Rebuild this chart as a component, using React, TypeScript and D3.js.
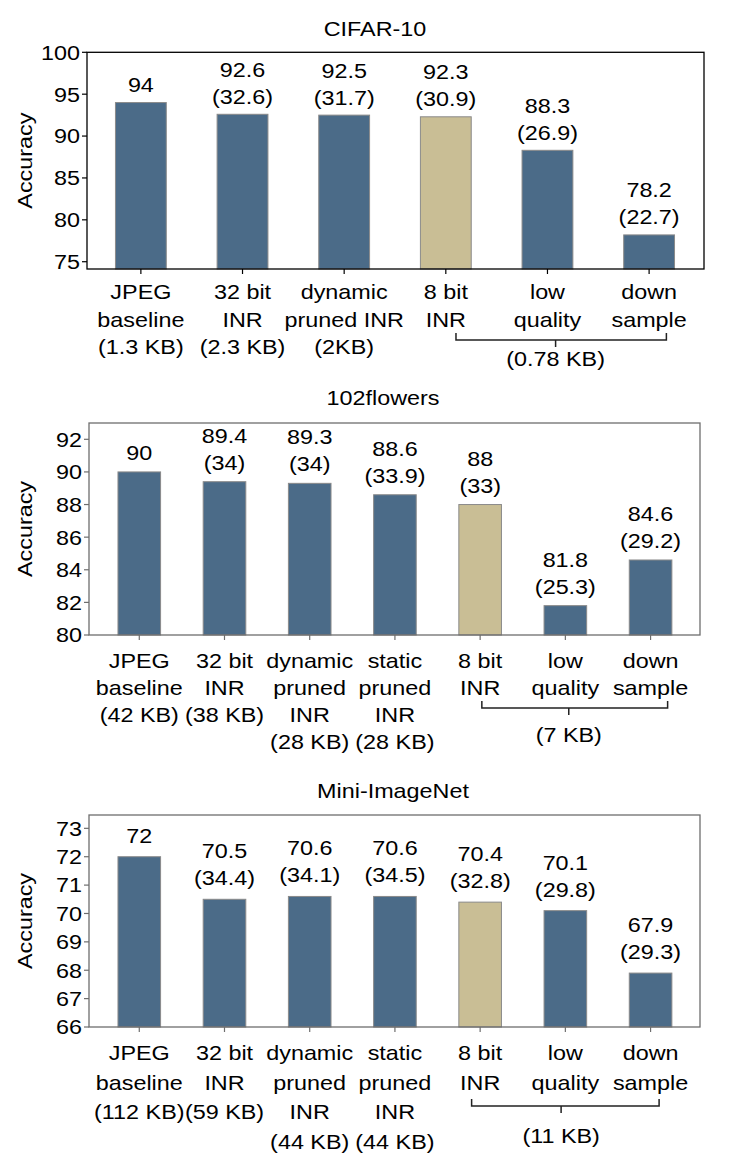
import React from 'react';
import * as d3 from 'd3';

// chart values
const cifarLabels = [
  ['JPEG', 'baseline', '(1.3 KB)'],
  ['32 bit', 'INR', '(2.3 KB)'],
  ['dynamic', 'pruned INR', '(2KB)'],
  ['8 bit', 'INR'],
  ['low', 'quality'],
  ['down', 'sample'],
];
const cifarAccuracy = [94, 92.6, 92.5, 92.3, 88.3, 78.2];
const cifarScore = [null, 32.6, 31.7, 30.9, 26.9, 22.7];
const cifarTicks = [75, 80, 85, 90, 95, 100];

const flowersLabels = [
  ['JPEG', 'baseline', '(42 KB)'],
  ['32 bit', 'INR', '(38 KB)'],
  ['dynamic', 'pruned', 'INR', '(28 KB)'],
  ['static', 'pruned', 'INR', '(28 KB)'],
  ['8 bit', 'INR'],
  ['low', 'quality'],
  ['down', 'sample'],
];
const flowersAccuracy = [90, 89.4, 89.3, 88.6, 88, 81.8, 84.6];
const flowersScore = [null, 34, 34, 33.9, 33, 25.3, 29.2];
const flowersTicks = [80, 82, 84, 86, 88, 90, 92];

const miniLabels = [
  ['JPEG', 'baseline', '(112 KB)'],
  ['32 bit', 'INR', '(59 KB)'],
  ['dynamic', 'pruned', 'INR', '(44 KB)'],
  ['static', 'pruned', 'INR', '(44 KB)'],
  ['8 bit', 'INR'],
  ['low', 'quality'],
  ['down', 'sample'],
];
const miniAccuracy = [72, 70.5, 70.6, 70.6, 70.4, 70.1, 67.9];
const miniScore = [null, 34.4, 34.1, 34.5, 32.8, 29.8, 29.3];
const miniTicks = [66, 67, 68, 69, 70, 71, 72, 73];

const BLUE = '#4b6b88';
const TAN = '#c9be95';
const FONT = '"Liberation Sans", Arial, Helvetica, sans-serif';
const FS = 20.5;
const SX = 1.14; // the figure's font is a bit wider than Arial

// text helper, stretched horizontally along its own axis
const T = ({ x, y, children, anchor = 'middle', rotate = 0, dy = 0 }: any) => (
  <text
    transform={`translate(${x},${y}) rotate(${rotate}) scale(${SX},1)`}
    textAnchor={anchor}
    dy={dy}
    fontFamily={FONT}
    fontSize={FS}
    fill="#000"
  >
    {children}
  </text>
);

const Panel = ({ cfg }: any) => {
  const { title, titleX, titleY, left, right, top, bottom, xDomain, yDomain,
    labels, acc, score, ticks, highlight, frame, lineGap, labelOffset,
    annotGap, bracket } = cfg;

  const x = d3.scaleLinear().domain(xDomain).range([left, right]);
  const y = d3.scaleLinear().domain(yDomain).range([bottom, top]);
  const bw = (x(1) - x(0)) * 0.5;

  const bx0 = x(bracket.from);
  const bx1 = x(bracket.to);
  const bxm = x(bracket.mid);
  const by = bottom + bracket.dy;

  return (
    <g>
      <T x={titleX} y={titleY}>{title}</T>

      {acc.map((v: number, i: number) => (
        <rect
          key={'b' + i}
          x={x(i) - bw / 2}
          y={y(v)}
          width={bw}
          height={bottom - y(v)}
          fill={i === highlight ? TAN : BLUE}
          stroke="#8a8a8a"
          strokeWidth={1}
        />
      ))}

      {acc.map((v: number, i: number) => {
        const lines = score[i] == null ? [String(v)] : [String(v), `(${score[i]})`];
        const base = y(v) - annotGap;
        return lines.map((s, k) => (
          <T key={'a' + i + k} x={x(i)} y={base - (lines.length - 1 - k) * 27}>{s}</T>
        ));
      })}

      <rect x={left} y={top} width={right - left} height={bottom - top}
        fill="none" stroke={frame} strokeWidth={1.3} />

      {ticks.map((t: number) => (
        <g key={'t' + t}>
          <line x1={left - 5} x2={left} y1={y(t)} y2={y(t)} stroke={frame} strokeWidth={1.2} />
          <T x={left - 7} y={y(t)} anchor="end" dy="0.36em">{t}</T>
        </g>
      ))}

      <T x={32} y={(top + bottom) / 2} rotate={-90}>Accuracy</T>

      {labels.map((ls: string[], i: number) => (
        <g key={'l' + i}>
          <line x1={x(i)} x2={x(i)} y1={bottom} y2={bottom + 5} stroke={frame} strokeWidth={1.2} />
          {ls.map((s, k) => (
            <T key={k} x={x(i)} y={bottom + labelOffset + k * lineGap}>{s}</T>
          ))}
        </g>
      ))}

      <path
        d={`M${bx0},${by - 7}V${by}H${bx1}V${by - 7}M${bxm},${by}V${by + 7}`}
        fill="none"
        stroke="#222"
        strokeWidth={1.5}
      />
      <T x={bxm} y={bottom + bracket.textDy}>{bracket.text}</T>
    </g>
  );
};

const panels = [
  {
    title: 'CIFAR-10', titleX: 375, titleY: 36,
    left: 87, right: 704, top: 52.3, bottom: 269,
    xDomain: [-0.53, 5.54], yDomain: [74.13, 100],
    labels: cifarLabels, acc: cifarAccuracy, score: cifarScore, ticks: cifarTicks,
    highlight: 3, frame: '#000', lineGap: 27.5, labelOffset: 30, annotGap: 10.5,
    bracket: { from: 3.1, to: 5.17, mid: 4.08, dy: 71, textDy: 97, text: '(0.78 KB)' },
  },
  {
    title: '102flowers', titleX: 383, titleY: 405,
    left: 89, right: 700, top: 423, bottom: 635,
    xDomain: [-0.59, 6.58], yDomain: [80, 93],
    labels: flowersLabels, acc: flowersAccuracy, score: flowersScore, ticks: flowersTicks,
    highlight: 4, frame: '#6e6e6e', lineGap: 27, labelOffset: 33, annotGap: 12,
    bracket: { from: 4.02, to: 6.2, mid: 5.04, dy: 73, textDy: 107, text: '(7 KB)' },
  },
  {
    title: 'Mini-ImageNet', titleX: 393, titleY: 798,
    left: 89, right: 700, top: 815, bottom: 1027,
    xDomain: [-0.59, 6.58], yDomain: [66, 73.47],
    labels: miniLabels, acc: miniAccuracy, score: miniScore, ticks: miniTicks,
    highlight: 4, frame: '#6e6e6e', lineGap: 29.5, labelOffset: 33, annotGap: 14,
    bracket: { from: 3.9, to: 6.1, mid: 4.95, dy: 79, textDy: 116, text: '(11 KB)' },
  },
];

export default function App() {
  return (
    <svg
      width={730}
      height={1161}
      style={{ position: 'absolute', left: 0, top: 0, background: '#fff' }}
    >
      {panels.map((p) => <Panel key={p.title} cfg={p} />)}
    </svg>
  );
}
